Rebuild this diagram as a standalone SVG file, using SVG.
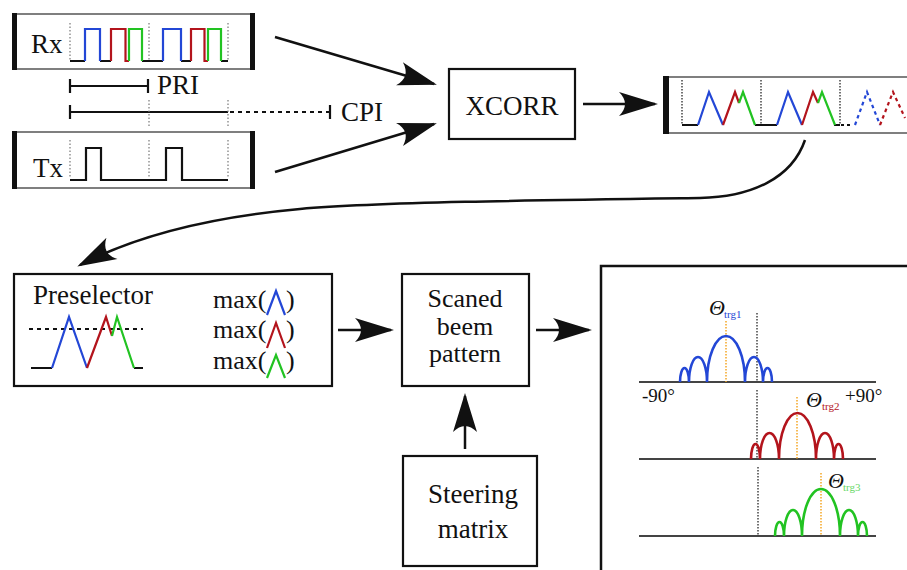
<svg xmlns="http://www.w3.org/2000/svg" width="907" height="570" viewBox="0 0 907 570">
<defs>
<style>
text{font-family:"Liberation Serif","Times New Roman",serif;fill:#111}
.lbl{font-size:27px}
.box{fill:#fff;stroke:#111;stroke-width:2.2}
.sbox{fill:#fff;stroke:#555;stroke-width:1.5}
.bar{fill:#111}
.sig{fill:none;stroke-width:2.2;stroke-linejoin:miter}
.k{stroke:#111}.b{stroke:#2347d6}.r{stroke:#b3141c}.g{stroke:#22c322}
.dotg{stroke:#777;stroke-width:1.2;stroke-dasharray:1.5 2;fill:none}
.dotk{stroke:#444;stroke-width:1.5;stroke-dasharray:1.5 1.5;fill:none}
.doto{stroke:#f5a623;stroke-width:1.5;stroke-dasharray:1.5 1.5;fill:none}
.conn{fill:none;stroke:#111;stroke-width:2.5;marker-end:url(#ah)}
.lobe{fill:none;stroke-width:2.6}
.axis{stroke:#444;stroke-width:2;fill:none}
</style>
<marker id="ah" markerUnits="userSpaceOnUse" orient="auto" markerWidth="50" markerHeight="30" viewBox="-40 -15 45 30" refX="0" refY="0">
<path d="M3,0 L-36,-12 C-28,-4 -28,4 -36,12 Z" fill="#111"/>
</marker>
</defs>

<g id="rx">
<rect class="sbox" x="15" y="14" width="238" height="55"/>
<rect class="bar" x="12" y="13" width="5" height="57"/>
<rect class="bar" x="250" y="13" width="5" height="57"/>
<text class="lbl" x="31" y="53">Rx</text>
<path class="dotg" d="M70,23V61M149,23V61M228,23V61"/>
<path class="sig k" d="M70,61H85M100,61H111M142,61H163M181,61H191M221,61H228"/>
<path class="sig b" d="M85,61V29H100V61M163,61V29H181V61"/>
<path class="sig r" d="M111,61V29H125.5V61H129M191,61V29H204.5V61H208"/>
<path class="sig g" d="M129,61V29H142V61M208,61V29H221V61"/>
</g>

<g id="timing">
<path class="sig k" d="M70,86H148M70,79V93M148,79V93M70,112H228M70,105V119M330,105V119"/>
<path d="M230,112H330" stroke="#111" stroke-width="2" stroke-dasharray="4 4" fill="none"/>
<path class="dotg" d="M149,100V128M228,100V128"/>
<text class="lbl" x="157" y="94">PRI</text>
<text class="lbl" x="341" y="121">CPI</text>
</g>

<g id="tx">
<rect class="sbox" x="15" y="132" width="238" height="56"/>
<rect class="bar" x="12" y="131" width="5" height="58"/>
<rect class="bar" x="250" y="131" width="5" height="58"/>
<text class="lbl" x="33" y="177">Tx</text>
<path class="dotg" d="M70,140V178M149,140V178M228,140V178"/>
<path class="sig k" d="M70,180H86V148H101V180H166V148H182V180H228"/>
</g>

<g id="xcorr">
<rect class="box" x="449" y="69" width="126" height="70"/>
<text class="lbl" x="512" y="115" text-anchor="middle">XCORR</text>
</g>

<g id="xcorr-out">
<rect class="sbox" x="667" y="77" width="260" height="56"/>
<rect class="bar" x="663" y="76" width="6" height="58"/>
<path class="dotk" d="M682,80V125M761,80V125M840,80V125"/>
<path class="sig k" d="M682,125H698M755,125H777M834,125H840"/>
<path class="sig b" d="M698,125L709,92L723,125M777,125L788,92L802,125"/>
<path class="sig r" d="M723,125L735,92L739,103M802,125L813,92L818,103"/>
<path class="sig g" d="M739,103L743,92L755,125M818,103L822,92L835,125"/>
<path d="M841,125H851" stroke="#111" stroke-width="2.2" stroke-dasharray="3 3" fill="none"/>
<path d="M855,125L867,92L880,125" stroke="#2347d6" stroke-width="2.2" stroke-dasharray="3.5 3.5" fill="none"/>
<path d="M880,125L893,92L905,118" stroke="#b3141c" stroke-width="2.2" stroke-dasharray="3.5 3.5" fill="none"/>
</g>

<g id="preselector">
<rect class="box" x="14" y="274" width="318" height="112"/>
<text class="lbl" x="33" y="304">Preselector</text>
<path d="M29,329H143" stroke="#111" stroke-width="1.8" stroke-dasharray="4 4" fill="none"/>
<path class="sig k" d="M31,368H52M134,368H143"/>
<path class="sig b" d="M52,368L69,317L87,368"/>
<path class="sig r" d="M87,368L106,317L112,336"/>
<path class="sig g" d="M112,336L117,317L134,368"/>
<text x="213" y="308" font-size="26">max(</text>
<path class="sig b" d="M267,315L276,291L285,315"/>
<text x="286" y="308" font-size="26">)</text>
<text x="213" y="338" font-size="26">max(</text>
<path class="sig r" d="M267,348L276,323L285,348"/>
<text x="286" y="338" font-size="26">)</text>
<text x="213" y="369" font-size="26">max(</text>
<path class="sig g" d="M267,378L276,355L285,378"/>
<text x="286" y="369" font-size="26">)</text>
</g>

<g id="scanned">
<rect class="box" x="402" y="274" width="127" height="112"/>
<text x="465" y="307" font-size="26" text-anchor="middle">Scaned</text>
<text x="465" y="335" font-size="26" text-anchor="middle">beem</text>
<text x="465" y="362" font-size="26" text-anchor="middle">pattern</text>
</g>

<g id="steering">
<rect class="box" x="403" y="456" width="134" height="110"/>
<text class="lbl" x="473" y="503" text-anchor="middle">Steering</text>
<text class="lbl" x="473" y="538" text-anchor="middle">matrix</text>
</g>

<g id="beampanel">
<rect x="601" y="266" width="330" height="330" fill="#fff" stroke="#111" stroke-width="2.5"/>
<path class="axis" d="M639,382H876M639,459H876M639,536H876"/>
<path class="doto" d="M726,321V382M797,397V459M821,473V536"/>
<path class="dotk" d="M757,313V382M757,390V459M758,467V536"/>
<path class="lobe b" d="M680,382A4.5,14 0 0 1 689,382A9,25 0 0 1 707,382A19,46 0 0 1 745,382A9,25 0 0 1 763,382A4.5,14 0 0 1 772,382"/>
<path class="lobe r" d="M751,459A4.5,15 0 0 1 760,459A9.5,26 0 0 1 779,459A18.5,46 0 0 1 816,459A9,26 0 0 1 834,459A4.5,15 0 0 1 843,459"/>
<path class="lobe g" d="M775,536A4.5,14 0 0 1 784,536A9,26 0 0 1 802,536A19,47 0 0 1 840,536A9,26 0 0 1 858,536A4.5,14 0 0 1 867,536"/>
<text x="709" y="315" font-size="22" font-style="italic">Θ</text>
<text x="724" y="318" font-size="11" style="fill:#2347d6">trg1</text>
<text x="642" y="402" font-size="19">-90°</text>
<text x="806" y="407" font-size="22" font-style="italic">Θ</text>
<text x="822" y="410" font-size="11" style="fill:#b3141c">trg2</text>
<text x="845" y="402" font-size="19">+90°</text>
<text x="828" y="488" font-size="22" font-style="italic">Θ</text>
<text x="843" y="491" font-size="11" style="fill:#66d866">trg3</text>
</g>

<g id="connectors">
<path class="conn" d="M275,37L434,84"/>
<path class="conn" d="M275,172L434,124"/>
<path class="conn" d="M583,104L655,104"/>
<path class="conn" d="M805,140C792,178 752,197 700,198C550,200 380,202 300,209C200,218 132,238 80,265"/>
<path class="conn" d="M338,330L391,330"/>
<path class="conn" d="M536,330L589,330"/>
<path class="conn" d="M465,449L465,396"/>
</g>
</svg>
